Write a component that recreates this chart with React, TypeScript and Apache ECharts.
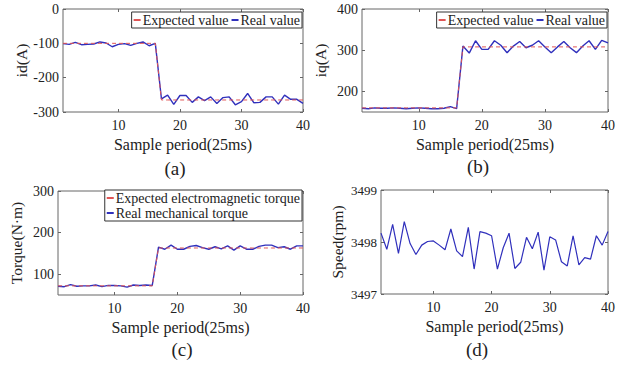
import React, { useEffect, useRef } from "react";
import * as echarts from "echarts";

const samples = [1,2,3,4,5,6,7,8,9,10,11,12,13,14,15,16,17,18,19,20,21,22,23,24,25,26,27,28,29,30,31,32,33,34,35,36,37,38,39,40];
const xTicks = [10, 20, 30, 40];

const idExpected = [-100,-100,-100,-100,-100,-100,-100,-100,-100,-100,-100,-100,-100,-100,-100,-100,-265,-265,-265,-265,-265,-265,-265,-265,-265,-265,-265,-265,-265,-265,-265,-265,-265,-265,-265,-265,-265,-265,-265,-265];
const idReal = [-101,-103,-97,-104,-103,-102,-96,-99,-110,-103,-101,-106,-100,-96,-107,-100,-262,-251,-278,-252,-252,-272,-256,-267,-256,-275,-258,-256,-279,-270,-246,-273,-272,-256,-256,-277,-251,-263,-263,-275];

const iqExpected = [160,160,160,160,160,160,160,160,160,160,160,160,160,160,160,160,308,308,308,308,308,308,308,308,308,308,308,308,308,308,308,308,308,308,308,308,308,308,308,308];
const iqReal = [159,158,160,159,159,160,159,158,159,160,159,158,158,159,163,158,310,293,323,302,302,323,312,294,310,321,306,312,323,308,294,308,321,306,294,310,323,302,324,318];

const torqueExpected = [72,72,72,72,72,72,72,72,72,72,72,72,72,72,72,72,163,163,163,163,163,163,163,163,163,163,163,163,163,163,163,163,163,163,163,163,163,163,163,163];
const torqueReal = [71,70,75,71,72,72,74,70,73,73,72,69,74,73,74,73,165,160,170,160,160,167,169,164,160,166,161,168,158,168,160,160,167,170,170,164,166,160,168,168];

const speed = [3498.17,3497.86,3498.34,3497.78,3498.39,3497.97,3497.76,3497.94,3498.01,3498.02,3497.94,3497.85,3498.25,3497.83,3497.72,3498.28,3497.48,3498.2,3498.17,3498.12,3497.48,3497.89,3498.17,3497.49,3497.61,3498.09,3497.87,3498.19,3497.46,3498.1,3498.04,3497.62,3497.54,3498.12,3497.56,3497.7,3497.67,3498.12,3497.94,3498.2];

const yNames = ["id(A)", "iq(A)", "Torque(N·m)", "Speed(rpm)"];
const yRanges = [
  { min: -300, max: 0, ticks: [-300, -200, -100, 0] },
  { min: 150, max: 400, ticks: [200, 300, 400] },
  { min: 50, max: 300, ticks: [100, 200, 300] },
  { min: 3497, max: 3499, ticks: [3497, 3498, 3499] },
];
const panelLabels = ["(a)", "(b)", "(c)", "(d)"];
const legendIdQ = ["Expected value", "Real value"];
const legendTorque = ["Expected electromagnetic torque", "Real mechanical torque"];

const FONT = "'Liberation Serif', 'DejaVu Serif', serif";
const BLUE = "#3030bc";
const RED = "#e05555";

export default function App() {
  const ref = useRef<HTMLDivElement>(null);
  useEffect(() => {
    if (!ref.current) return;
    const chart = echarts.init(ref.current, null, { renderer: "svg" });
    const grids = [
      { left: 63, top: 9, width: 240, height: 103 },
      { left: 362, top: 9, width: 246, height: 103 },
      { left: 58, top: 191, width: 245, height: 104 },
      { left: 381, top: 190, width: 227, height: 104 },
    ].map((g) => ({ ...g, show: true, borderColor: "#666", borderWidth: 1, backgroundColor: "#fff" }));

    const pair = (ys: number[]) => samples.map((x, i) => [x, ys[i]]);
    const plain = (v: number) => String(v);

    const xAxes: any[] = [];
    const yAxes: any[] = [];
    for (let i = 0; i < 4; i++) {
      xAxes.push({
        type: "value", gridIndex: i, min: 1, max: 40, position: "bottom",
        name: "Sample period(25ms)", nameLocation: "middle", nameGap: 24,
        nameTextStyle: { fontFamily: FONT, fontSize: 16, color: "#222" },
        axisLine: { show: false, onZero: false },
        axisTick: { show: true, inside: true, length: 3, customValues: xTicks, lineStyle: { color: "#666" } },
        axisLabel: { show: true, customValues: xTicks, formatter: plain, fontFamily: FONT, fontSize: 14, color: "#222", margin: 6 },
        splitLine: { show: false },
      });
      yAxes.push({
        type: "value", gridIndex: i, min: yRanges[i].min, max: yRanges[i].max, position: "left",
        name: yNames[i], nameLocation: "middle", nameGap: i === 3 ? 36 : 34,
        nameTextStyle: { fontFamily: FONT, fontSize: 15.5, color: "#222" },
        axisLine: { show: false, onZero: false },
        axisTick: { show: true, inside: true, length: 3, customValues: yRanges[i].ticks, lineStyle: { color: "#666" } },
        axisLabel: { show: true, customValues: yRanges[i].ticks, formatter: plain, fontFamily: FONT, fontSize: i === 3 ? 13 : 14, color: "#222", margin: 4 },
        splitLine: { show: false },
      });
    }
    for (let i = 0; i < 4; i++) {
      xAxes.push({
        type: "value", gridIndex: i, min: 1, max: 40, position: "top",
        axisLine: { show: false, onZero: false },
        axisTick: { show: true, inside: true, length: 3, customValues: xTicks, lineStyle: { color: "#666" } },
        axisLabel: { show: false },
        splitLine: { show: false },
      });
      yAxes.push({
        type: "value", gridIndex: i, min: yRanges[i].min, max: yRanges[i].max, position: "right",
        axisLine: { show: false, onZero: false },
        axisTick: { show: true, inside: true, length: 3, customValues: yRanges[i].ticks, lineStyle: { color: "#666" } },
        axisLabel: { show: false },
        splitLine: { show: false },
      });
    }

    const expected = (name: string, ys: number[], idx: number) => ({
      type: "line", name, xAxisIndex: idx, yAxisIndex: idx, data: pair(ys), symbol: "none",
      lineStyle: { color: RED, width: 1, type: [4, 3] }, itemStyle: { color: RED }, z: 3,
    });
    const real = (name: string, ys: number[], idx: number) => ({
      type: "line", name, xAxisIndex: idx, yAxisIndex: idx, data: pair(ys), symbol: "none",
      lineStyle: { color: BLUE, width: 1.4 }, itemStyle: { color: BLUE }, z: 2,
    });

    const legendBase = {
      backgroundColor: "#fff", borderColor: "#333", borderWidth: 1, padding: [1, 2],
      icon: "rect", itemWidth: 7, itemHeight: 2, itemGap: 3,
      textStyle: { fontFamily: FONT, fontSize: 14, color: "#222", padding: [0, 0, 0, -3] },
    };

    chart.setOption({
      animation: false,
      backgroundColor: "#fff",
      grid: grids,
      xAxis: xAxes,
      yAxis: yAxes,
      legend: [
        { ...legendBase, orient: "horizontal", right: 321, top: 12, data: legendIdQ.map((n) => ({ name: n })) },
        { ...legendBase, orient: "horizontal", right: 16, top: 12, data: legendIdQ.map((n) => ({ name: n })) },
        { ...legendBase, orient: "vertical", right: 321, top: 190, itemGap: 1, data: legendTorque.map((n) => ({ name: n })) },
      ],
      series: [
        expected(legendIdQ[0], idExpected, 0),
        real(legendIdQ[1], idReal, 0),
        expected(legendIdQ[0], iqExpected, 1),
        real(legendIdQ[1], iqReal, 1),
        expected(legendTorque[0], torqueExpected, 2),
        real(legendTorque[1], torqueReal, 2),
        {
          type: "line", name: "Speed", xAxisIndex: 3, yAxisIndex: 3, data: pair(speed), symbol: "none",
          lineStyle: { color: BLUE, width: 1.2 }, itemStyle: { color: BLUE },
        },
      ],
      graphic: [
        { type: "text", x: 175, y: 168, style: { text: panelLabels[0], font: `19px ${FONT}`, fill: "#222", align: "center", verticalAlign: "middle" } },
        { type: "text", x: 478, y: 166, style: { text: panelLabels[1], font: `19px ${FONT}`, fill: "#222", align: "center", verticalAlign: "middle" } },
        { type: "text", x: 182, y: 349, style: { text: panelLabels[2], font: `19px ${FONT}`, fill: "#222", align: "center", verticalAlign: "middle" } },
        { type: "text", x: 477, y: 349, style: { text: panelLabels[3], font: `19px ${FONT}`, fill: "#222", align: "center", verticalAlign: "middle" } },
      ],
    });
    return () => chart.dispose();
  }, []);
  return <div ref={ref} style={{ position: "fixed", left: 0, top: 0, width: 623, height: 366 }} />;
}
